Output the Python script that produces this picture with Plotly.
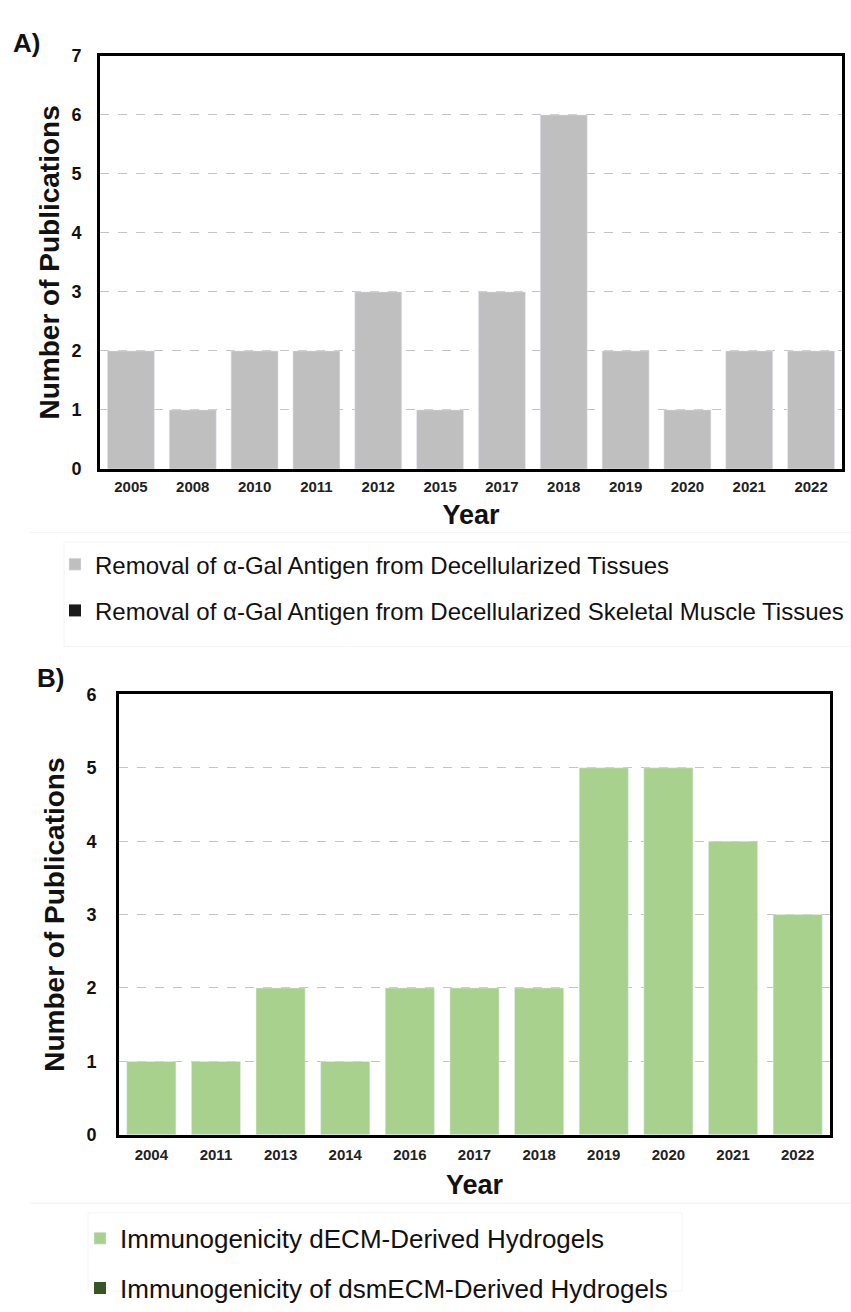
import plotly.graph_objects as go

# ---------------- data ----------------
years_a = ["2005", "2008", "2010", "2011", "2012", "2015", "2017", "2018", "2019", "2020", "2021", "2022"]
pubs_a = [2, 1, 2, 2, 3, 1, 3, 6, 2, 1, 2, 2]
pubs_a2 = [0] * len(years_a)
name_a1 = "Removal of α-Gal Antigen from Decellularized Tissues"
name_a2 = "Removal of α-Gal Antigen from Decellularized Skeletal Muscle Tissues"

years_b = ["2004", "2011", "2013", "2014", "2016", "2017", "2018", "2019", "2020", "2021", "2022"]
pubs_b = [1, 1, 2, 1, 2, 2, 2, 5, 5, 4, 3]
pubs_b2 = [0] * len(years_b)
name_b1 = "Immunogenicity dECM-Derived Hydrogels"
name_b2 = "Immunogenicity of dsmECM-Derived Hydrogels"

yticks_a = list(range(0, 8))
yticks_b = list(range(0, 7))

# ---------------- style ----------------
FONT = "Liberation Sans, Arial, sans-serif"
W, H = 851, 1312
GRAY = "#bfbfbf"
BLACK = "#1a1a1a"
LGREEN = "#a9d18e"
DGREEN = "#375623"

def px(x):
    return x / W

def py(y):
    return 1 - y / H

fig = go.Figure()

fig.add_trace(go.Bar(x=years_a, y=pubs_a, name=name_a1, marker_color=GRAY,
                     xaxis="x", yaxis="y", legend="legend", legendgroup="a1"))
fig.add_trace(go.Bar(x=years_a, y=pubs_a2, name=name_a2, marker_color=BLACK,
                     marker_line_width=0, hoverinfo="skip",
                     xaxis="x", yaxis="y", legend="legend", legendgroup="a2"))
fig.add_trace(go.Bar(x=years_b, y=pubs_b, name=name_b1, marker_color=LGREEN,
                     xaxis="x2", yaxis="y2", legend="legend2", legendgroup="b1"))
fig.add_trace(go.Bar(x=years_b, y=pubs_b2, name=name_b2, marker_color=DGREEN,
                     marker_line_width=0, hoverinfo="skip",
                     xaxis="x2", yaxis="y2", legend="legend2", legendgroup="b2"))

axis_common = dict(showline=True, mirror=True, linecolor="black", linewidth=3,
                   zeroline=False)

def xaxis_style(size, standoff, lab_off):
    return dict(axis_common, showgrid=False, ticks="", type="category",
                ticklabelstandoff=lab_off,
                tickfont=dict(family=FONT, size=size, color="#222", weight="bold"),
                title=dict(text="<b>Year</b>", font=dict(family=FONT, size=27, color="#111"),
                           standoff=standoff))

def yaxis_style(ticklen, standoff):
    return dict(axis_common, showgrid=True, gridcolor="#c4c4c4", griddash="dash", gridwidth=1,
                ticks="outside", ticklen=ticklen, tickcolor="rgba(0,0,0,0)",
                tickfont=dict(family=FONT, size=18, color="#111", weight="bold"),
                title=dict(text="<b>Number of Publications</b>",
                           font=dict(family=FONT, size=28, color="#111"), standoff=standoff))

fig.update_layout(
    width=W, height=H,
    margin=dict(l=0, r=0, t=0, b=0),
    paper_bgcolor="white", plot_bgcolor="white",
    barmode="overlay", bargap=0.24,
    font=dict(family=FONT, color="#111"),
    xaxis=dict(xaxis_style(15, 12, 2), domain=[px(100), px(842)], anchor="y"),
    yaxis=dict(yaxis_style(12, 4), domain=[py(470), py(47)], anchor="x",
               range=[0, 7], tickvals=yticks_a),
    xaxis2=dict(xaxis_style(15, 14, 4), domain=[px(119), px(830)], anchor="y2"),
    yaxis2=dict(yaxis_style(16, 14), domain=[py(1152), py(701)], anchor="x2",
                range=[0, 6], tickvals=yticks_b),
    legend=dict(x=px(55), y=py(545), xanchor="left", yanchor="top",
                orientation="v", tracegroupgap=12, bgcolor="rgba(0,0,0,0)",
                font=dict(family=FONT, size=24, color="#111")),
    legend2=dict(x=px(80), y=py(1234), xanchor="left", yanchor="top",
                 orientation="v", tracegroupgap=13, bgcolor="rgba(0,0,0,0)",
                 font=dict(family=FONT, size=26, color="#111")),
    showlegend=True,
)

# panel labels
fig.add_annotation(text="<b>A)</b>", x=px(11), y=py(34), xref="paper", yref="paper",
                   xanchor="left", yanchor="middle", showarrow=False,
                   font=dict(family=FONT, size=26, color="#111"))
fig.add_annotation(text="<b>B)</b>", x=px(35), y=py(684), xref="paper", yref="paper",
                   xanchor="left", yanchor="middle", showarrow=False,
                   font=dict(family=FONT, size=26, color="#111"))

# faint separator lines / legend boxes from the original image
for y0 in (535, 1222):
    fig.add_shape(type="line", xref="paper", yref="paper", x0=px(30), x1=1, y0=py(y0), y1=py(y0),
                  line=dict(color="#f1f1f1", width=1))
fig.add_shape(type="rect", xref="paper", yref="paper", x0=px(64), x1=px(851), y0=py(545), y1=py(652),
              line=dict(color="#f4f4f4", width=1))
fig.add_shape(type="rect", xref="paper", yref="paper", x0=px(88), x1=px(682), y0=py(1232), y1=py(1312),
              line=dict(color="#f4f4f4", width=1))

fig.write_html("out.html", config={"displayModeBar": False},
               post_script="document.body.style.margin='0';")
